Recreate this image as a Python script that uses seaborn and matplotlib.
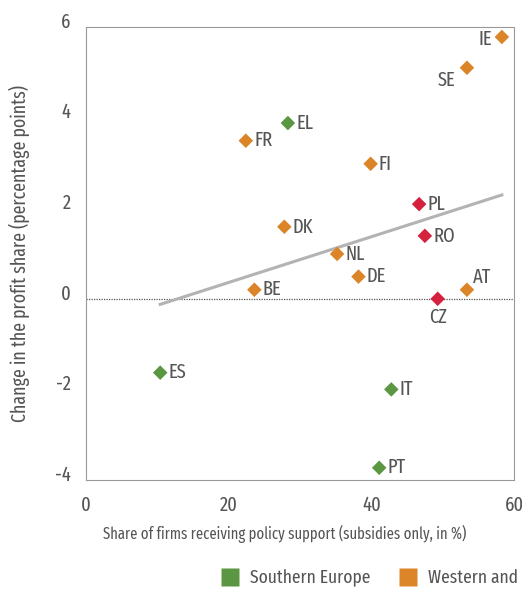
import numpy as np
import pandas as pd
import matplotlib
matplotlib.use("Agg")
import matplotlib.pyplot as plt
import matplotlib.transforms as mtransforms
from matplotlib.lines import Line2D
import seaborn as sns

# Data
countries = ['IE', 'SE', 'EL', 'FR', 'FI', 'PL', 'DK', 'RO', 'NL', 'DE', 'BE', 'AT', 'CZ', 'ES', 'IT', 'PT']
support = [58.3, 53.4, 28.3, 22.4, 39.9, 46.7, 27.8, 47.5, 35.2, 38.2, 23.6, 53.4, 49.3, 10.4, 42.8, 41.1]
profit_change = [5.78, 5.1, 3.88, 3.49, 2.98, 2.09, 1.59, 1.39, 0.99, 0.49, 0.2, 0.2, 0.0, -1.63, -2.0, -3.73]
regions = ['W', 'W', 'S', 'W', 'W', 'E', 'W', 'E', 'W', 'W', 'W', 'W', 'E', 'S', 'S', 'S']

region_names = {'S': 'Southern Europe', 'W': 'Western and Northern Europe', 'E': 'Central and Eastern Europe'}
region_colors = {'S': '#5B9642', 'W': '#DB8528', 'E': '#D4213D'}

# label offsets (points) and alignment per country
label_pos = {
    'IE': (-7, -2, 'right', 'center'),
    'SE': (-8, -9, 'right', 'center'),
    'CZ': (0, -13, 'center', 'center'),
    'AT': (4, 9, 'left', 'center'),
}

df = pd.DataFrame({'country': countries, 'support': support,
                   'profit': profit_change, 'region': regions})

plt.rcParams['font.family'] = ['Fira Sans Extra Condensed', 'Barlow Condensed', 'DejaVu Sans']
plt.rcParams['axes.unicode_minus'] = False
text_col = '#555555'

fig = plt.figure(figsize=(5.22, 5.91), dpi=100)
ax = fig.add_axes([0.1648, 0.1878, 0.8199, 0.7665])

# regression line
sns.regplot(x='support', y='profit', data=df, scatter=False, ci=None, truncate=True,
            color='#b3b3b3', line_kws={'linewidth': 2.2}, ax=ax)

sns.scatterplot(x='support', y='profit', data=df, hue='region', palette=region_colors,
                marker='D', s=55, edgecolor='none', legend=False, ax=ax, zorder=3)

for c, x, y in zip(countries, support, profit_change):
    dx, dy, ha, va = label_pos.get(c, (6, 0, 'left', 'center'))
    ax.annotate(c, (x, y), xytext=(dx, dy), textcoords='offset points',
                ha=ha, va=va, fontsize=14.5, color=text_col)

ax.axhline(0, color='#555555', linestyle=(0, (1, 1)), linewidth=0.9, zorder=1)

ax.set_xlim(0, 60)
ax.set_ylim(-4, 6)
ax.set_xticks([0, 20, 40, 60])
ax.set_yticks([-4, -2, 0, 2, 4, 6])
ax.tick_params(length=0, labelsize=14.5, labelcolor=text_col)
ax.tick_params(axis='x', pad=11)
ax.tick_params(axis='y', pad=11)

# y tick labels sit a little above their values
shift = mtransforms.ScaledTranslation(0, 5 / 72, fig.dpi_scale_trans)
for lab in ax.get_yticklabels():
    lab.set_transform(lab.get_transform() + shift)

for sp in ax.spines.values():
    sp.set_linestyle((0, (1, 1)))
    sp.set_color('#999999')
    sp.set_linewidth(0.8)

ax.set_xlabel('Share of firms receiving policy support (subsidies only, in %)',
              fontsize=11.5, color=text_col)
ax.xaxis.set_label_coords(0.465, -0.098)
ax.set_ylabel('Change in the profit share (percentage points)', fontsize=14,
              color=text_col)
ax.yaxis.set_label_coords(-0.13, 0.5)

handles = [Line2D([], [], marker='s', linestyle='none', markersize=12.5,
                  markerfacecolor=region_colors[k], markeredgecolor='none',
                  label=region_names[k]) for k in ['S', 'W', 'E']]
leg = fig.legend(handles=handles, loc='center left', bbox_to_anchor=(0.41, 0.022), ncol=3,
                 frameon=False, fontsize=13.7, labelcolor=text_col, handletextpad=0.6,
                 columnspacing=1.5, borderaxespad=0, handlelength=0.9)

fig.savefig('out.png', dpi=100)
